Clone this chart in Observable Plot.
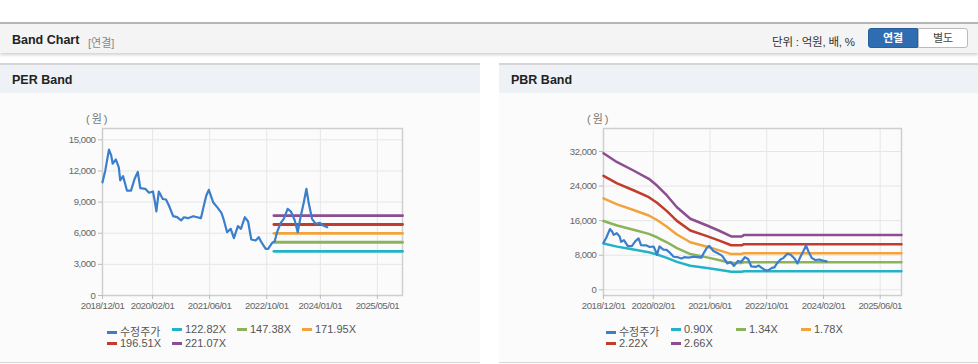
<!DOCTYPE html>
<html><head><meta charset="utf-8">
<script src="https://cdn.jsdelivr.net/npm/d3@7"></script>
<script src="https://cdn.jsdelivr.net/npm/@observablehq/plot@0.6"></script>
<style>
body{margin:0;width:978px;height:364px;position:relative;overflow:hidden;background:#fff;font-family:"Liberation Sans","Noto Sans CJK KR",Arial,sans-serif;}
.abs{position:absolute;}
#hdr{left:0;top:22px;width:978px;height:29px;background:#f4f4f4;border-top:2px solid #b5b5b5;box-shadow:0 2px 3px rgba(0,0,0,0.18);}
#hdrTitle{left:12px;top:33px;font-size:12.5px;font-weight:bold;color:#222;}
#hdrSub{left:88px;top:34px;font-size:11px;color:#888;}
#unit{left:772px;top:33px;font-size:11.5px;color:#333;letter-spacing:-0.2px;}
#btn1{left:868px;top:28px;width:50px;height:20px;background:#2f6db3;border:1px solid #285f9e;border-radius:3px 0 0 3px;color:#fff;font-size:11px;font-weight:bold;text-align:center;line-height:18px;box-sizing:border-box;}
#btn2{left:918px;top:28px;width:50px;height:20px;background:#fff;border:1px solid #bbb;border-radius:0 3px 3px 0;color:#444;font-size:11px;text-align:center;line-height:18px;box-sizing:border-box;}
.panel{top:63px;height:300px;background:#fbfbfb;border-top:2px solid #d5d5d5;border-bottom:1px solid #d5d5d5;box-sizing:border-box;}
.phead{left:0;top:0;right:0;height:28px;background:#eef2f7;}
.ptitle{font-size:12.5px;font-weight:bold;color:#222;top:8px;left:12px;}
.unitlbl{font-size:11px;color:#777;letter-spacing:2px;}
.leg{font-size:11px;color:#555;white-space:nowrap;}
.sw{display:inline-block;width:10px;height:3px;vertical-align:middle;margin-right:3px;position:relative;top:-1px;}
svg text{font-family:"Liberation Sans",Arial,sans-serif;font-size:9.6px;letter-spacing:-0.45px;}
</style></head>
<body>
<div id="hdr" class="abs"></div>
<div id="hdrTitle" class="abs">Band Chart</div>
<div id="hdrSub" class="abs">[연결]</div>
<div id="unit" class="abs">단위 : 억원, 배, %</div>
<div id="btn1" class="abs">연결</div>
<div id="btn2" class="abs">별도</div>

<div id="pL" class="abs panel" style="left:0;width:480px;"><div class="abs phead"></div><div class="abs ptitle">PER Band</div></div>
<div id="pR" class="abs panel" style="left:499px;width:479px;"><div class="abs phead"></div><div class="abs ptitle">PBR Band</div></div>

<div class="abs unitlbl" style="left:86px;top:110px;">(원)</div>
<div class="abs unitlbl" style="left:587px;top:110px;">(원)</div>

<div id="perChart" class="abs" style="left:0;top:100px;"></div>
<div id="pbrChart" class="abs" style="left:499px;top:100px;"></div>

<script>
// ---- data ----
const priceDates = ["2018-12-01","2018-12-25","2019-01-25","2019-02-13","2019-02-26","2019-03-25","2019-04-19","2019-05-01","2019-05-25","2019-06-28","2019-08-01","2019-09-01","2019-09-28","2019-10-19","2019-12-01","2020-01-01","2020-02-04","2020-02-21","2020-03-04","2020-03-25","2020-04-28","2020-05-25","2020-06-19","2020-07-25","2020-08-28","2020-10-01","2020-10-25","2020-11-28","2021-01-13","2021-02-15","2021-03-19","2021-04-13","2021-05-04","2021-05-25","2021-07-01","2021-08-04","2021-09-10","2021-10-01","2021-10-28","2021-11-28","2021-12-25","2022-01-28","2022-02-23","2022-03-28","2022-04-25","2022-05-22","2022-06-28","2022-07-25","2022-08-16","2022-09-22","2022-10-13","2022-11-16","2022-12-07","2022-12-28","2023-01-28","2023-02-23","2023-03-28","2023-04-25","2023-05-28","2023-06-22","2023-07-16","2023-08-13","2023-09-04","2023-09-25","2023-10-22","2023-11-22","2023-12-28","2024-01-25","2024-02-28"];
const priceValues = [10900,12050,14050,13500,12700,13100,12350,11100,11500,10100,10100,11250,11900,10350,10280,9900,10020,9000,8100,10020,9300,9250,8670,7650,7550,7230,7540,7450,7640,7540,7450,8670,9630,10180,8990,8510,7960,7230,6100,6420,5520,6680,6420,7540,7130,5400,5300,5620,5140,4500,4500,5080,5200,6100,7000,7390,8350,8090,7230,6100,7540,8990,10280,8830,7390,6900,7000,6740,6580];

const perBandDates = ["2022-12-01","2025-12-01"];
const perLabels = ["122.82X","147.38X","171.95X","196.51X","221.07X"];
const perLevels = [4260,5130,5990,6840,7690];
const perYTicks = [0,3000,6000,9000,12000,15000];
const perXTicks = ["2018-12-01","2020-02-01","2021-06-01","2022-10-01","2024-01-01","2025-05-01"];

const pbrBandDates = ["2018-12-01","2019-03-28","2019-08-15","2019-12-25","2020-03-04","2020-05-28","2020-08-22","2020-12-15","2021-05-07","2021-08-15","2021-12-01","2022-03-01","2022-03-19","2025-12-01"];
const pbrLabels = ["0.90X","1.34X","1.78X","2.22X","2.66X"];
const pbrBand090 = [10692,9990,9338,8689,8164,7383,6466,5559,5035,4642,4176,4176,4280,4280];
const pbrBand134 = [15919,14874,13904,12936,12155,10992,9627,8277,7496,6912,6218,6218,6373,6373];
const pbrBand178 = [21146,19758,18469,17184,16146,14601,12788,10995,9957,9181,8259,8259,8466,8466];
const pbrBand222 = [26374,24642,23035,21432,20138,18211,15948,13713,12419,11451,10301,10301,10558,10558];
const pbrBand266 = [31601,29526,27600,25680,24129,21820,19109,16431,14880,13720,12342,12342,12651,12651];
const pbrYTicks = [0,8000,16000,24000,32000];
const pbrXTicks = ["2018-12-01","2020-02-01","2021-06-01","2022-10-01","2024-02-01","2025-06-01"];

const priceName = "수정주가";
const colors = ["#3b7fcc","#22b3c6","#8db35a","#f2a33c","#c23b2c","#8c4e91"];
const xDomain = ["2018-12-01","2025-12-01"];

// ---- build ----
const P = d => new Date(d + "T00:00:00Z");
const price = priceDates.map((d,i)=>({date:P(d), value:priceValues[i]}));
const perBands = [];
perLabels.forEach((lab,k)=>perBandDates.forEach(d=>perBands.push({date:P(d), value:perLevels[k], band:lab})));
const pbrArrays = [pbrBand090,pbrBand134,pbrBand178,pbrBand222,pbrBand266];
const pbrBands = [];
pbrLabels.forEach((lab,k)=>pbrBandDates.forEach((d,i)=>pbrBands.push({date:P(d), value:pbrArrays[k][i], band:lab})));

function makeChart(opts){
  const xt = opts.xTicks.map(P);
  return Plot.plot({
    width: opts.width, height: 220,
    marginLeft: opts.ml, marginRight: opts.mr, marginTop: 28, marginBottom: 25,
    style:{background:"transparent", fontSize:"9.6px", color:"#666", overflow:"visible"},
    x:{type:"utc", domain: xDomain.map(P)},
    y:{domain: opts.yDomain},
    color:{domain: opts.labels, range: colors.slice(1)},
    marks:[
      Plot.gridY(opts.yTicks,{stroke:"#e6e6e6", strokeOpacity:1}),
      Plot.gridX(xt,{stroke:"#e6e6e6", strokeOpacity:1}),
      Plot.frame({stroke:"#cfcfcf", strokeWidth:1.5}),
      Plot.axisY(opts.yTicks,{tickSize:4, tickPadding:3, stroke:"#bbb", fill:"#666", tickFormat:d3.format(","), label:null}),
      Plot.axisX(xt,{tickSize:4, tickPadding:3, stroke:"#bbb", fill:"#666", tickFormat:d3.utcFormat("%Y/%m/%d"), label:null}),
      Plot.lineY(opts.bands,{x:"date", y:"value", z:"band", stroke:"band", strokeWidth:opts.bw}),
      Plot.lineY(price,{x:"date", y:"value", stroke:colors[0], strokeWidth:2.2})
    ]
  });
}

document.getElementById("perChart").append(makeChart({width:480, ml:102, mr:78, yDomain:[0,16090], yTicks:perYTicks, xTicks:perXTicks, labels:perLabels, bands:perBands, bw:2.8}));
document.getElementById("pbrChart").append(makeChart({width:479, ml:104, mr:77, yDomain:[-1320,37320], yTicks:pbrYTicks, xTicks:pbrXTicks, labels:pbrLabels, bands:pbrBands, bw:2.5}));

function legend(names, left, colStep){
  const frag = document.createDocumentFragment();
  names.forEach((n,i)=>{
    const row = Math.floor(i/4), col = i%4;
    const el = document.createElement("div");
    el.className = "abs leg";
    el.style.left = (left + col*colStep) + "px";
    el.style.top = (323 + row*14) + "px";
    el.innerHTML = `<span class="sw" style="background:${colors[i]}"></span>${n}`;
    frag.append(el);
  });
  document.body.append(frag);
}
legend([priceName, ...perLabels], 107, 65);
legend([priceName, ...pbrLabels], 606, 65);
</script>
</body></html>
